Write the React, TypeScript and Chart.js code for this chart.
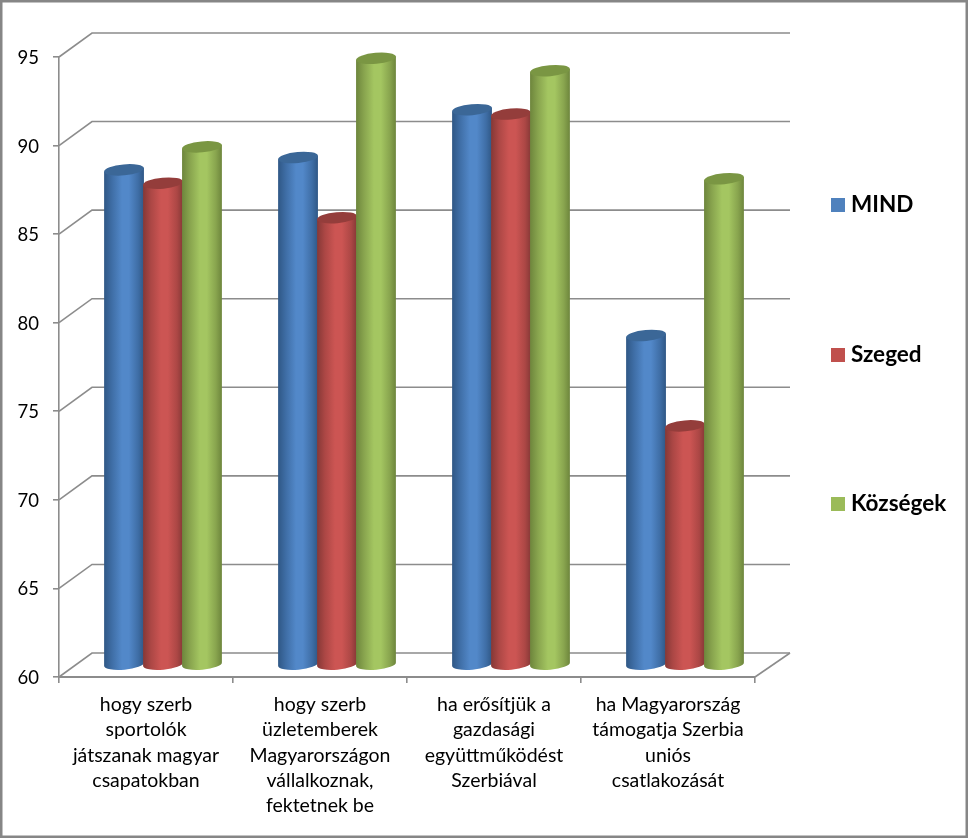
import React, { useEffect, useRef } from "react";
import { Chart, registerables } from "chart.js";

Chart.register(...registerables);

const categories = [
  ["hogy szerb", "sportolók", "játszanak magyar", "csapatokban"],
  ["hogy szerb", "üzletemberek", "Magyarországon", "vállalkoznak,", "fektetnek be"],
  ["ha erősítjük a", "gazdasági", "együttműködést", "Szerbiával"],
  ["ha Magyarország", "támogatja Szerbia", "uniós", "csatlakozását"],
];
const mind = [87.95, 88.65, 91.35, 78.6];
const szeged = [87.2, 85.25, 91.1, 73.5];
const kozsegek = [89.25, 94.25, 93.55, 87.45];

const seriesNames = ["MIND", "Szeged", "Községek"];
const seriesColors = ["#4f81bd", "#c0504d", "#9bbb59"];
const shades = [
  { edge: "#2f5785", mid: "#3f6ea6", light: "#5288c9", cap: "#3b6797" },
  { edge: "#853836", mid: "#ac4745", light: "#cc5553", cap: "#943d3b" },
  { edge: "#6d853c", mid: "#88a44e", light: "#a4c661", cap: "#7a9643" },
];

const FONT = "Lato, Carlito, Calibri, sans-serif";
const GREY = "#8c8c8c";
const DEPTH_X = 33;
const DEPTH_Y = 24;

function cylinder(ctx: CanvasRenderingContext2D, cx: number, top: number, base: number, w: number, s: any) {
  const rx = w / 2;
  const ry = 5.5;
  const rot = -0.09;
  const g = ctx.createLinearGradient(cx - rx, 0, cx + rx, 0);
  g.addColorStop(0, s.edge);
  g.addColorStop(0.2, s.mid);
  g.addColorStop(0.45, s.light);
  g.addColorStop(0.62, s.light);
  g.addColorStop(0.85, s.mid);
  g.addColorStop(1, s.edge);
  ctx.beginPath();
  ctx.ellipse(cx, top, rx, ry, rot, Math.PI, Math.PI);
  ctx.ellipse(cx, base, rx, ry, rot, Math.PI, 0, true);
  ctx.ellipse(cx, top, rx, ry, rot, 0, 0);
  ctx.closePath();
  ctx.fillStyle = g;
  ctx.fill();
  ctx.beginPath();
  ctx.ellipse(cx, top, rx, ry, rot, 0, Math.PI * 2);
  ctx.fillStyle = s.cap;
  ctx.fill();
}

const scenePlugin = {
  id: "scene3d",
  beforeDraw(chart: any) {
    const { ctx, width, height } = chart;
    ctx.save();
    ctx.fillStyle = "#ffffff";
    ctx.fillRect(0, 0, width, height);
    ctx.strokeStyle = "#868686";
    ctx.lineWidth = 2.5;
    ctx.strokeRect(1.25, 1.25, width - 2.5, height - 2.5);
    ctx.restore();
  },
  beforeDatasetsDraw(chart: any) {
    const { ctx, chartArea, scales } = chart;
    const { left, right, bottom } = chartArea;
    ctx.save();
    ctx.strokeStyle = GREY;
    ctx.lineWidth = 1.6;
    scales.y.ticks.forEach((t: any) => {
      const y = scales.y.getPixelForValue(t.value);
      ctx.beginPath();
      ctx.moveTo(left, y);
      ctx.lineTo(left + DEPTH_X, y - DEPTH_Y);
      ctx.lineTo(right + DEPTH_X + 2, y - DEPTH_Y);
      ctx.stroke();
    });
    ctx.beginPath();
    ctx.moveTo(right, bottom);
    ctx.lineTo(right + DEPTH_X + 2, bottom - DEPTH_Y);
    ctx.stroke();
    chart.data.datasets.forEach((_: any, i: number) => {
      chart.getDatasetMeta(i).data.forEach((bar: any) => {
        const { x, y, base, width: w } = bar.getProps(["x", "y", "base", "width"], true);
        cylinder(ctx, x + DEPTH_X / 2 + 0.5, y - DEPTH_Y / 2, base - DEPTH_Y / 2, w + 1, shades[i]);
      });
    });
    ctx.restore();
    return false;
  },
  afterDraw(chart: any) {
    const { ctx } = chart;
    const rows = [205, 355, 504];
    ctx.save();
    ctx.font = `bold 22.5px ${FONT}`;
    ctx.textBaseline = "middle";
    chart.data.datasets.forEach((d: any, i: number) => {
      ctx.fillStyle = d.backgroundColor;
      ctx.fillRect(831, rows[i] - 7, 14, 14);
      ctx.fillStyle = "#000000";
      ctx.fillText(d.label, 851, rows[i]);
    });
    ctx.restore();
  },
};

export default function App() {
  const ref = useRef<HTMLCanvasElement | null>(null);
  useEffect(() => {
    document.body.style.margin = "0";
    const chart = new Chart(ref.current!, {
      type: "bar",
      data: {
        labels: categories as any,
        datasets: [mind, szeged, kozsegek].map((data, i) => ({
          label: seriesNames[i],
          data,
          base: 60,
          backgroundColor: seriesColors[i],
          categoryPercentage: 0.672,
          barPercentage: 1,
        })),
      },
      plugins: [scenePlugin],
      options: {
        responsive: false,
        animation: false,
        layout: { padding: { left: 0, top: 57, right: 213, bottom: 0 } },
        plugins: { legend: { display: false }, tooltip: { enabled: false } },
        scales: {
          x: {
            afterFit: (s: any) => { s.height = 161; },
            grid: { drawOnChartArea: false, color: GREY, lineWidth: 1.6, tickLength: 6 },
            border: { color: GREY, width: 2 },
            ticks: {
              maxRotation: 0,
              minRotation: 0,
              autoSkip: false,
              color: "#000000",
              padding: 9,
              font: { family: FONT, size: 19.5, lineHeight: 1.3 },
            },
          },
          y: {
            min: 60,
            max: 95,
            afterFit: (s: any) => { s.width = 59; },
            grid: { drawOnChartArea: false, color: GREY, lineWidth: 1.6, tickLength: 6 },
            border: { color: GREY, width: 1.6 },
            ticks: {
              stepSize: 5,
              color: "#000000",
              padding: 14,
              labelOffset: 1,
              font: { family: FONT, size: 18.5 },
            },
          },
        },
      },
    } as any);
    return () => chart.destroy();
  }, []);
  return <canvas ref={ref} width={968} height={838} style={{ display: "block" }} />;
}
